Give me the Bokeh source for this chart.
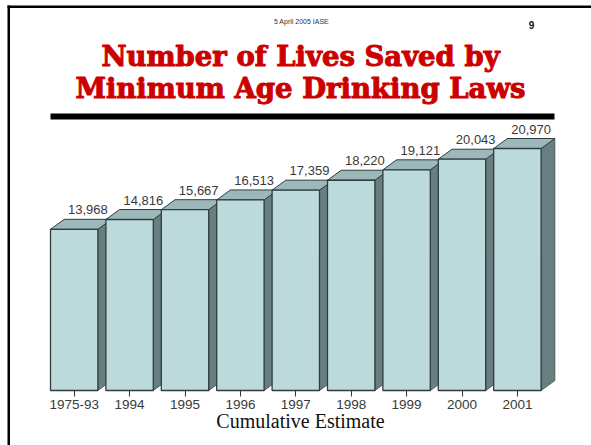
from bokeh.plotting import figure
from bokeh.models import Range1d, FixedTicker, Label, BoxAnnotation
from bokeh.core.properties import value
from bokeh.embed import file_html
from bokeh.resources import INLINE

categories = ["1975-93", "1994", "1995", "1996", "1997", "1998", "1999", "2000", "2001"]
lives_saved = [13968, 14816, 15667, 16513, 17359, 18220, 19121, 20043, 20970]
title_lines = ["Number of Lives Saved by", "Minimum Age Drinking Laws"]

W, H = 591, 445
PX_PER_CAT = 55.4
PX_PER_LIFE = 0.01154
X0_PX = 73.7      # first bar centre in pixels
Y0_PX = 390       # baseline in pixels

def fx(px):
    return (px - X0_PX) / PX_PER_CAT

def fy(py):
    return (Y0_PX - py) / PX_PER_LIFE

p = figure(width=W, height=H, output_backend="svg", toolbar_location=None,
           x_range=Range1d(-X0_PX / PX_PER_CAT, (W - X0_PX) / PX_PER_CAT),
           y_range=Range1d((Y0_PX - H) / PX_PER_LIFE, Y0_PX / PX_PER_LIFE),
           min_border=0, min_border_left=0, min_border_right=0,
           min_border_top=0, min_border_bottom=0,
           background_fill_color="white", border_fill_color="white",
           outline_line_color=None)
p.grid.visible = False
p.yaxis.visible = False

ax = p.xaxis[0]
ax.fixed_location = 0
ax.ticker = FixedTicker(ticks=list(range(len(categories))))
ax.major_label_overrides = {i: c for i, c in enumerate(categories)}
ax.axis_line_color = None
ax.minor_tick_line_color = None
ax.major_tick_in = 0
ax.major_tick_out = 6
ax.major_tick_line_color = "#333333"
ax.major_tick_line_width = 1
ax.major_label_standoff = 3
ax.major_label_text_font = "Liberation Sans"
ax.major_label_text_font_size = "13.5px"
ax.major_label_text_color = "#3a3a3a"

BAR_W = 47.4 / PX_PER_CAT
DX = 13.7 / PX_PER_CAT
DY = 10 / PX_PER_LIFE
EDGE = "#2f3d3f"

for i, v in enumerate(lives_saved):
    l, r = i - BAR_W / 2, i + BAR_W / 2
    p.patch([r, r + DX, r + DX, r], [0, DY, v + DY, v],
            fill_color="#687f80", line_color="#4a5c5e", line_width=1)
    p.patch([l, l + DX, r + DX, r], [v, v + DY, v + DY, v],
            fill_color="#9db8ba", line_color=EDGE, line_width=1)
    p.vbar(x=[i], top=[v], bottom=0, width=BAR_W,
           fill_color="#bcd9dc", line_color=EDGE, line_width=1.3)

p.text(x=[i + DX for i in range(len(lives_saved))],
       y=[v + DY for v in lives_saved],
       text=[f"{v:,}" for v in lives_saved],
       text_font=value("Liberation Sans"), text_font_size="13px",
       text_color="#3a3a3a", text_align="center", text_baseline="bottom",
       y_offset=-5)

def label(px, py, text, font, size, color, style="normal", align="center"):
    p.add_layout(Label(x=fx(px), y=fy(py), text=text, text_font=font,
                       text_font_size=size, text_color=color, text_font_style=style,
                       text_align=align, text_baseline="alphabetic"))

label(302, 21, "5 April 2005  IASE", "Liberation Sans", "7px", "#333333")
label(531, 24, "9", "Liberation Sans", "10px", "#111111", "bold")
p.text(x=[fx(300), fx(300)], y=[fy(55), fy(87)], text=title_lines,
       text_font=value("DejaVu Serif"), text_font_size="27.5px", text_font_style="bold",
       text_color="#cc0000", text_align="center", text_baseline="alphabetic",
       text_outline_color="#cc0000")
label(300, 420, "Cumulative Estimate", "Liberation Serif", "20px", "#111111")

# rule under the title, and the slide's frame
p.add_layout(BoxAnnotation(left=fx(50), right=fx(554), top=fy(113), bottom=fy(119),
                           fill_color="black", fill_alpha=1, line_color=None))
p.add_layout(BoxAnnotation(left=fx(7), right=fx(9.5), top=fy(5), bottom=fy(445),
                           fill_color="black", fill_alpha=1, line_color=None))
p.add_layout(BoxAnnotation(left=fx(7), right=fx(591), top=fy(5), bottom=fy(7.5),
                           fill_color="black", fill_alpha=1, line_color=None))

open("out.html", "w").write(file_html(p, INLINE))
